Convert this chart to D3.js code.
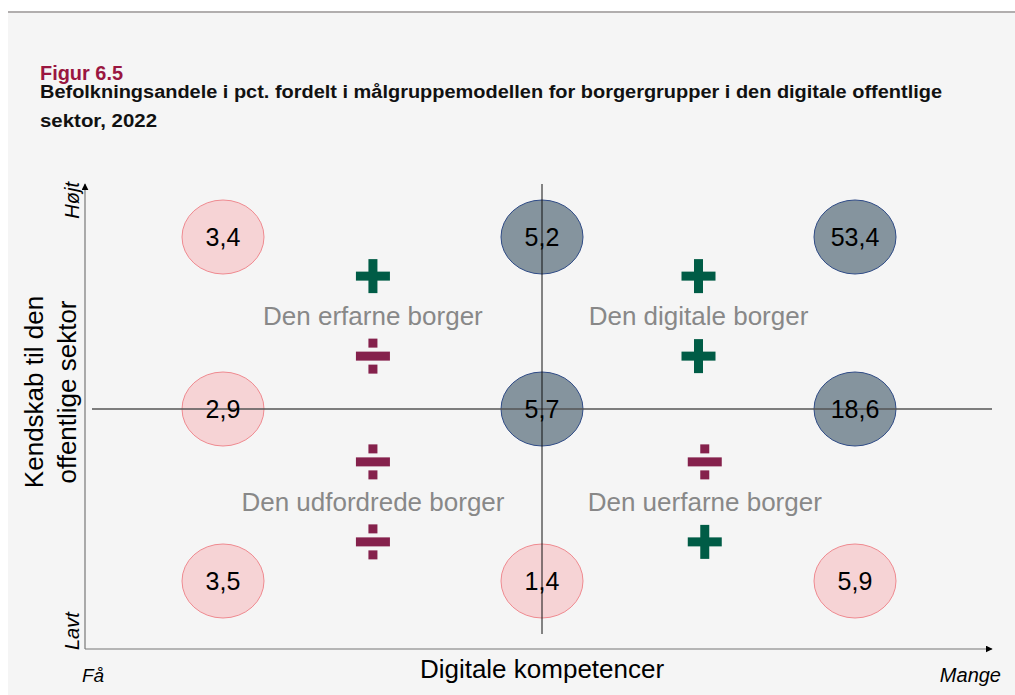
<!DOCTYPE html>
<html>
<head>
<meta charset="utf-8">
<script src="https://cdn.jsdelivr.net/npm/d3@7"></script>
<style>
  body { margin: 0; background: #fff; }
  svg { display: block; font-family: "Liberation Sans", Arial, sans-serif; }
</style>
</head>
<body>
<div class="chart"></div>
<script>
// values: rows = kendskab (højt, middel, lavt), cols = digitale kompetencer (få -> mange)
let hoejtKendskab = [3.4, 5.2, 53.4];
let middelKendskab = [2.9, 5.7, 18.6];
let lavtKendskab = [3.5, 1.4, 5.9];
// which cells are "digital" (dark) vs not (pink)
let digitalHoejt = [false, true, true];
let digitalMiddel = [false, true, true];
let digitalLavt = [false, false, false];

let quadrantLabels = ["Den erfarne borger", "Den digitale borger", "Den udfordrede borger", "Den uerfarne borger"];
let quadrantSymbols = [["+", "÷"], ["+", "+"], ["÷", "÷"], ["÷", "+"]];

let width = 1015, height = 695;

let svg = d3.select(".chart")
  .append("svg")
  .attr("width", width)
  .attr("height", height);

// background panel + top rule
svg.append("rect").attr("x", 8).attr("y", 12).attr("width", width - 8).attr("height", height - 12).attr("fill", "#f5f5f5");
svg.append("line").attr("x1", 8).attr("x2", width).attr("y1", 12).attr("y2", 12).attr("stroke", "#b1aeae").attr("stroke-width", 2);

// titles (condensed look via textLength)
svg.append("text").attr("x", 40).attr("y", 80)
  .attr("fill", "#9a1640").attr("font-weight", "bold").attr("font-size", 20.5)
  .attr("textLength", 83).attr("lengthAdjust", "spacingAndGlyphs")
  .text("Figur 6.5");
let sub = ["Befolkningsandele i pct. fordelt i målgruppemodellen for borgergrupper i den digitale offentlige", "sektor, 2022"];
let subLen = [902, 117];
svg.selectAll(".sub").data(sub).enter().append("text")
  .attr("class", "sub")
  .attr("x", 40).attr("y", (d, i) => 98 + i * 29)
  .attr("font-weight", "bold").attr("font-size", 18)
  .attr("textLength", (d, i) => subLen[i]).attr("lengthAdjust", "spacingAndGlyphs")
  .attr("fill", "#111")
  .text(d => d);

// scales
let x = d3.scaleLinear().domain([0, 1, 2]).range([223, 542, 855]);
let y = d3.scaleLinear().domain([0, 1, 2]).range([237, 409, 581]);

// arrow marker
svg.append("defs").append("marker")
  .attr("id", "arrow").attr("viewBox", "0 0 10 10").attr("refX", 9).attr("refY", 5)
  .attr("markerWidth", 7).attr("markerHeight", 7).attr("orient", "auto-start-reverse")
  .attr("markerUnits", "userSpaceOnUse")
  .append("path").attr("d", "M0,0L10,5L0,10z").attr("fill", "#000");

// axes
svg.append("line").attr("x1", 85).attr("x2", 85).attr("y1", 649).attr("y2", 184)
  .attr("stroke", "#777").attr("stroke-width", 1.2).attr("marker-end", "url(#arrow)");
svg.append("line").attr("x1", 85).attr("x2", 992).attr("y1", 649).attr("y2", 649)
  .attr("stroke", "#777").attr("stroke-width", 1.2).attr("marker-end", "url(#arrow)");

// cells
let rows = [hoejtKendskab, middelKendskab, lavtKendskab];
let digital = [digitalHoejt, digitalMiddel, digitalLavt];
let cells = [];
rows.forEach((r, ri) => r.forEach((v, ci) => cells.push({ row: ri, col: ci, value: v, digital: digital[ri][ci] })));

let fmt = v => d3.format(".1f")(v).replace(".", ",");

svg.selectAll(".cell").data(cells).enter().append("ellipse").attr("class", "cell")
  .attr("cx", d => x(d.col)).attr("cy", d => y(d.row))
  .attr("rx", 41).attr("ry", 37)
  .attr("fill", d => d.digital ? "#85949e" : "#f6d3d5")
  .attr("stroke", d => d.digital ? "#2f4b86" : "#ef8a90")
  .attr("stroke-width", 1);

// divider lines (on top of the ellipses)
svg.append("line").attr("x1", 92).attr("x2", 992).attr("y1", y(1)).attr("y2", y(1))
  .attr("stroke", "#555").attr("stroke-width", 1.3);
svg.append("line").attr("x1", x(1)).attr("x2", x(1)).attr("y1", 184).attr("y2", 634)
  .attr("stroke", "#111").attr("stroke-width", 1);

svg.selectAll(".val").data(cells).enter().append("text").attr("class", "val")
  .attr("x", d => x(d.col)).attr("y", d => y(d.row))
  .attr("text-anchor", "middle").attr("dy", "0.35em")
  .attr("font-size", 25).attr("fill", "#000")
  .text(d => fmt(d.value));

// quadrant labels + symbols
let qx = [x(0.47), x(1.5), x(0.47), x(1.52)];
let qy = [y(0.46), y(0.46), y(1.54), y(1.54)];
let quad = svg.selectAll(".quad").data(quadrantLabels).enter().append("g").attr("class", "quad")
  .attr("transform", (d, i) => "translate(" + qx[i] + "," + qy[i] + ")");
quad.append("text").attr("text-anchor", "middle").attr("dy", "0.35em")
  .attr("font-size", 26).attr("fill", "#888")
  .text(d => d);

function drawSymbol(g, s, cy) {
  let col = s == "+" ? "#005c46" : "#85214c";
  g.append("rect").attr("x", -17).attr("y", cy - 4.5).attr("width", 34).attr("height", 9).attr("fill", col);
  if (s == "+") {
    g.append("rect").attr("x", -4.5).attr("y", cy - 17).attr("width", 9).attr("height", 34).attr("fill", col);
  } else {
    g.append("rect").attr("x", -4.5).attr("y", cy - 17.5).attr("width", 9).attr("height", 9).attr("fill", col);
    g.append("rect").attr("x", -4.5).attr("y", cy + 8.5).attr("width", 9).attr("height", 9).attr("fill", col);
  }
}
quad.each(function (d, i) {
  let g = d3.select(this);
  drawSymbol(g, quadrantSymbols[i][0], -40);
  drawSymbol(g, quadrantSymbols[i][1], 40);
});

// axis titles
svg.append("text").attr("x", x(1)).attr("y", 678).attr("text-anchor", "middle")
  .attr("font-size", 26).attr("fill", "#000").text("Digitale kompetencer");
svg.append("text").attr("x", 82).attr("y", 682).attr("font-style", "italic")
  .attr("font-size", 19).attr("fill", "#000").text("Få");
svg.append("text").attr("x", 1001).attr("y", 682).attr("text-anchor", "end").attr("font-style", "italic")
  .attr("font-size", 20).attr("fill", "#000").text("Mange");

let ytitle = svg.append("text").attr("transform", "translate(0,392) rotate(-90)")
  .attr("text-anchor", "middle").attr("font-size", 26).attr("fill", "#000");
ytitle.append("tspan").attr("x", 0).attr("y", 43).text("Kendskab til den");
ytitle.append("tspan").attr("x", 0).attr("y", 76).text("offentlige sektor");

svg.append("text").attr("transform", "translate(79,182) rotate(-90)")
  .attr("text-anchor", "end").attr("font-style", "italic").attr("font-size", 20).text("Højt");
svg.append("text").attr("transform", "translate(79,650) rotate(-90)")
  .attr("text-anchor", "start").attr("font-style", "italic").attr("font-size", 20).text("Lavt");
</script>
</body>
</html>
